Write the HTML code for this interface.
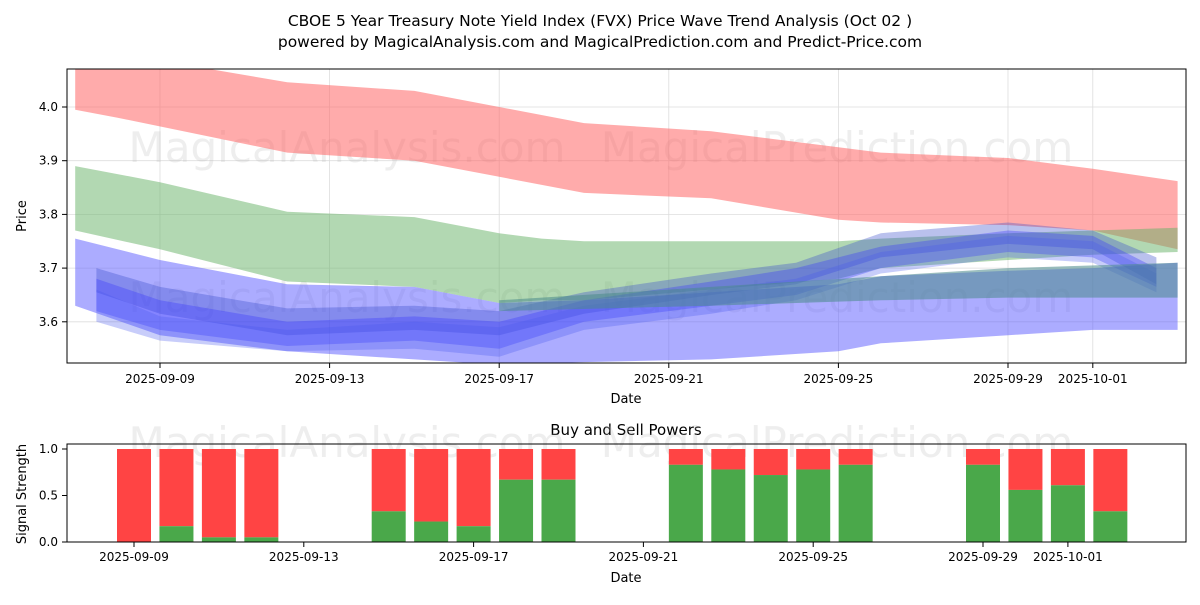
<!DOCTYPE html>
<html><head><meta charset="utf-8"><style>
body{margin:0;background:#fff;font-family:"Liberation Sans","DejaVu Sans",sans-serif;}
svg text{font-family:"DejaVu Sans","Liberation Sans",sans-serif;}
</style></head><body>
<svg id="c" width="1200" height="600" xmlns="http://www.w3.org/2000/svg">
<rect width="1200" height="600" fill="#fff"/>
<text x="600" y="26" text-anchor="middle" font-size="15.5">CBOE 5 Year Treasury Note Yield Index (FVX) Price Wave Trend Analysis (Oct 02 )</text>
<text x="600" y="47" text-anchor="middle" font-size="15.5">powered by MagicalAnalysis.com and MagicalPrediction.com and Predict-Price.com</text>
<g id="topchart"></g>
<g id="botchart"></g>
</svg>
<script>
// ---- data ----
const redDays=[7,8,12,15,17,19,22,25,26,29,31,33];
const redUp=[4.08,4.1,4.046,4.03,4.0,3.97,3.955,3.925,3.915,3.905,3.885,3.862];
const redLo=[3.995,3.98,3.915,3.9,3.87,3.84,3.83,3.79,3.785,3.78,3.77,3.735];
const greenDays=[7,9,12,15,17,18,19,25,26,29,31,33];
const greenUp=[3.89,3.86,3.805,3.795,3.765,3.755,3.75,3.75,3.755,3.765,3.77,3.775];
const greenLo=[3.77,3.735,3.675,3.665,3.635,3.64,3.64,3.68,3.70,3.715,3.725,3.73];
const wideDays=[7,9,12,15,17,19,22,25,26,29,31,33];
const wideUp=[3.755,3.715,3.67,3.665,3.635,3.64,3.655,3.67,3.685,3.695,3.7,3.71];
const wideLo=[3.63,3.575,3.545,3.53,3.52,3.525,3.53,3.545,3.56,3.575,3.585,3.585];
const bDays=[7.5,9,12,15,17,19,22,24,26,29,31,32.5];
const b1Up=[3.70,3.665,3.625,3.63,3.62,3.655,3.69,3.71,3.765,3.785,3.77,3.72];
const b1Lo=[3.655,3.615,3.575,3.585,3.575,3.615,3.65,3.67,3.72,3.745,3.735,3.67];
const b2Up=[3.68,3.64,3.60,3.61,3.60,3.64,3.675,3.70,3.74,3.77,3.76,3.70];
const b2Lo=[3.62,3.585,3.555,3.565,3.55,3.60,3.63,3.65,3.70,3.73,3.72,3.665];
const b3Up=[3.66,3.61,3.585,3.60,3.59,3.63,3.66,3.68,3.73,3.76,3.75,3.69];
const b3Lo=[3.60,3.565,3.545,3.55,3.535,3.585,3.615,3.64,3.69,3.72,3.71,3.655];
const tealDays=[17,22,26,29,33];
const tealUp=[3.64,3.665,3.685,3.70,3.71];
const tealLo=[3.62,3.63,3.64,3.645,3.645];
const yTicks=[3.6,3.7,3.8,3.9,4.0];
const xTickDays=[9,13,17,21,25,29,31];
const xTickLabels=["2025-09-09","2025-09-13","2025-09-17","2025-09-21","2025-09-25","2025-09-29","2025-10-01"];
const barDays=[9,10,11,12,15,16,17,18,19,22,23,24,25,26,29,30,31,32];
const buyVals=[0,0.17,0.05,0.05,0.33,0.22,0.17,0.67,0.67,0.83,0.78,0.72,0.78,0.83,0.83,0.56,0.61,0.33];
const sigTicks=[0,0.5,1.0];
const sigLabels=["0.0","0.5","1.0"];

const NS="http://www.w3.org/2000/svg";
function mk(p,tag,at){const e=document.createElementNS(NS,tag);for(const k in at)e.setAttribute(k,at[k]);p.appendChild(e);return e;}
const X=d=>160+(d-9)*42.4;
const Y=v=>107+(4.0-v)*537;
const XB=d=>134+(d-9)*42.45;
const YB=v=>542-v*93;

const topG=document.getElementById('topchart');
yTicks.forEach(v=>{const l=mk(topG,'line',{x1:67,x2:1186,y1:Y(v),y2:Y(v),stroke:'#ddd','stroke-width':0.8});

});
xTickDays.forEach(d=>{const l=mk(topG,'line',{x1:X(d),x2:X(d),y1:69,y2:363,stroke:'#ddd','stroke-width':0.8});

});
[[347,162],[837,162],[347,312],[837,312]].forEach((p,i)=>{const t=mk(topG,'text',{x:p[0],y:p[1],'text-anchor':'middle','font-size':42,fill:'#bbb','fill-opacity':0.25});t.textContent=i%2?'MagicalPrediction.com':'MagicalAnalysis.com';

});
const cp=mk(topG,'clipPath',{id:'cl'});mk(cp,'rect',{x:67,y:69,width:1119,height:294});
const g=mk(topG,'g',{'clip-path':'url(#cl)'});
function band2(days,up,lo,fill,op,name){
  let d='M'+days.map((x,i)=>X(x).toFixed(1)+','+Y(up[i]).toFixed(1)).join('L');
  for(let i=days.length-1;i>=0;i--)d+='L'+X(days[i]).toFixed(1)+','+Y(lo[i]).toFixed(1);
  const p=mk(g,'path',{d:d+'Z',fill:fill,'fill-opacity':op});
  
  
}
band2(redDays,redUp,redLo,'#ff6666',0.55,'red-band');
band2(greenDays,greenUp,greenLo,'#66b266',0.5,'green-band');
band2(wideDays,wideUp,wideLo,'#5a5aff',0.5,'blue-wide-band');
band2(bDays,b1Up,b1Lo,'#3a4ccc',0.35,'blue-band-1');
band2(bDays,b2Up,b2Lo,'#3a3aff',0.35,'blue-band-2');
band2(bDays,b3Up,b3Lo,'#4a5aee',0.3,'blue-band-3');
band2(tealDays,tealUp,tealLo,'#4a8a8a',0.55,'teal-band');
mk(topG,'rect',{x:67,y:69,width:1119,height:294,fill:'none',stroke:'#000','stroke-width':1});
yTicks.forEach(v=>{mk(topG,'line',{x1:62,x2:67,y1:Y(v),y2:Y(v),stroke:'#000'});const t=mk(topG,'text',{x:58,y:Y(v)+4,'text-anchor':'end','font-size':12});t.textContent=v.toFixed(1);

});
xTickDays.forEach((d,i)=>{mk(topG,'line',{x1:X(d),x2:X(d),y1:363,y2:368,stroke:'#000'});const t=mk(topG,'text',{x:X(d),y:383,'text-anchor':'middle','font-size':12});t.textContent=xTickLabels[i];

});
let tt=mk(topG,'text',{x:626,y:403,'text-anchor':'middle','font-size':13});tt.textContent='Date';


tt=mk(topG,'text',{x:26,y:216,'text-anchor':'middle','font-size':13,transform:'rotate(-90 26 216)'});tt.textContent='Price';



const botG=document.getElementById('botchart');
tt=mk(botG,'text',{x:626,y:435,'text-anchor':'middle','font-size':15});tt.textContent='Buy and Sell Powers';


[[347,457],[837,457]].forEach((p,i)=>{const w=mk(botG,'text',{x:p[0],y:p[1],'text-anchor':'middle','font-size':42,fill:'#bbb','fill-opacity':0.25});w.textContent=i?'MagicalPrediction.com':'MagicalAnalysis.com';

});
barDays.forEach((d,i)=>{
  const x=XB(d)-17;
  const r=mk(botG,'rect',{x:x,y:YB(1),width:34,height:YB(buyVals[i])-YB(1),fill:'#ff4444'});
  
  
  const b=mk(botG,'rect',{x:x,y:YB(buyVals[i]),width:34,height:YB(0)-YB(buyVals[i]),fill:'#4aa84a'});
  
  
});
mk(botG,'rect',{x:67,y:444,width:1119,height:98,fill:'none',stroke:'#000','stroke-width':1});
sigTicks.forEach((v,i)=>{mk(botG,'line',{x1:62,x2:67,y1:YB(v),y2:YB(v),stroke:'#000'});const s=mk(botG,'text',{x:58,y:YB(v)+4,'text-anchor':'end','font-size':12});s.textContent=sigLabels[i];

});
xTickDays.forEach((d,i)=>{mk(botG,'line',{x1:XB(d),x2:XB(d),y1:542,y2:547,stroke:'#000'});const s=mk(botG,'text',{x:XB(d),y:561,'text-anchor':'middle','font-size':12});s.textContent=xTickLabels[i];

});
tt=mk(botG,'text',{x:626,y:582,'text-anchor':'middle','font-size':13});tt.textContent='Date';


tt=mk(botG,'text',{x:26,y:494,'text-anchor':'middle','font-size':13,transform:'rotate(-90 26 494)'});tt.textContent='Signal Strength';


</script>
</body></html>
